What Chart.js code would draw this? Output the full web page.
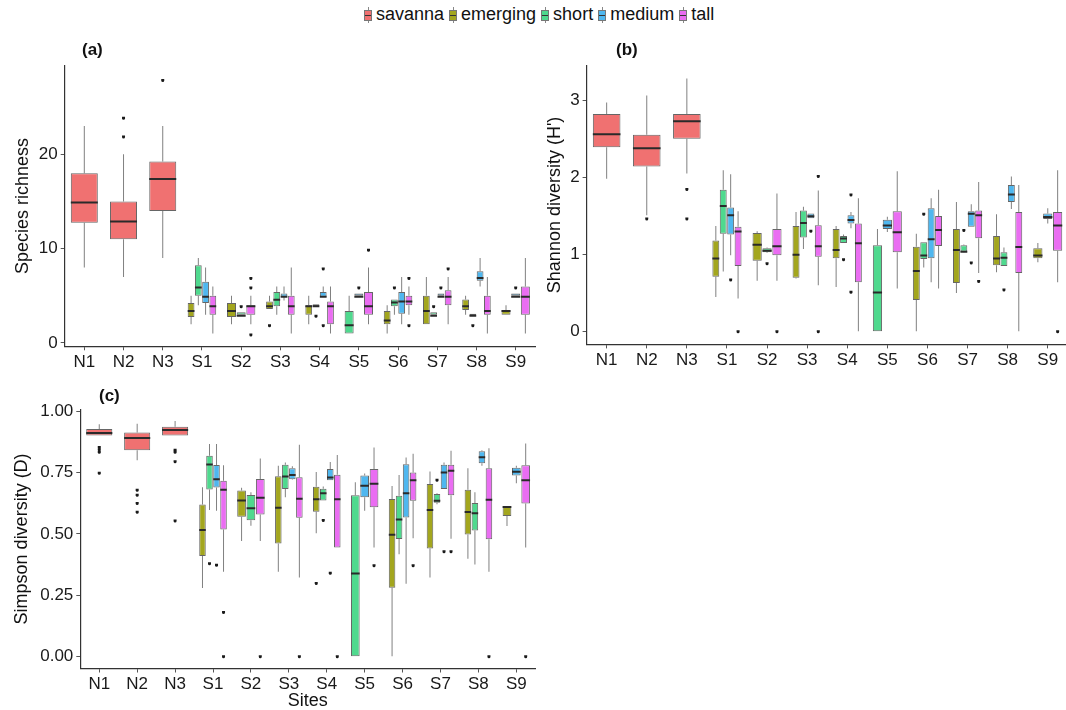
<!DOCTYPE html>
<html>
<head>
<meta charset="utf-8">
<script src="https://cdn.jsdelivr.net/npm/chart.js@4.4.1/dist/chart.umd.min.js"></script>
<style>
  html, body { margin: 0; padding: 0; background: #fff; }
  body { width: 1066px; height: 710px; overflow: hidden; position: relative;
         font-family: "Liberation Sans", Arial, sans-serif; color: #111; }
  .panel { position: absolute; }
  .tag { position: absolute; font-weight: bold; font-size: 17px; }
  #legend { position: absolute; top: 4px; left: 364px; white-space: nowrap; font-size: 18px; }
  .item { display: inline-block; margin-right: 5px; }
  .icon { position: relative; display: inline-block; width: 8px; height: 16px; vertical-align: -3px; margin-right: 4px; }
  .wh { position: absolute; left: 3.5px; top: 0; width: 1px; height: 16px; background: #888; }
  .bx { position: absolute; left: 0; top: 3px; width: 6px; height: 9px; border: 1px solid #777; }
  .bx::after { content: ""; position: absolute; left: 0; right: 0; top: 4px; height: 1px; background: #333; }
</style>
</head>
<body>
<div id="legend"></div>
<div class="panel" style="left:0;top:0;width:545px;height:380px"><canvas id="chartA"></canvas></div>
<div class="panel" style="left:520px;top:0;width:580px;height:380px"><canvas id="chartB"></canvas></div>
<div class="panel" style="left:0;top:380px;width:545px;height:330px"><canvas id="chartC"></canvas></div>
<div class="tag" style="left:82px;top:40px">(a)</div>
<div class="tag" style="left:616px;top:40px">(b)</div>
<div class="tag" style="left:99px;top:386px">(c)</div>
<script>
const sites = ["N1", "N2", "N3", "S1", "S2", "S3", "S4", "S5", "S6", "S7", "S8", "S9"];
const groups = ["savanna", "emerging", "short", "medium", "tall"];
const groupColors = ["#F07171", "#A3A61E", "#4FD98E", "#4FB7EF", "#EA6DF2"];

// each entry: [min, q1, median, q3, max], null where the group is absent
// (a) species richness
const richSavanna = [[8, 12.75, 15, 18, 23], [7, 11, 13, 15, 20], [9, 14, 17.5, 19.25, 23], null, null, null, null, null, null, null, null, null];
const richEmerging = [null, null, null, [2, 2.75, 3.5, 4.25, 5], [2, 2.75, 3.5, 4.25, 5], [3.6, 3.6, 4, 4.4, 5], [2, 3, 4, 4, 5], null, [1, 2, 2.5, 3.4, 4], [2, 2, 3.5, 5, 7], [3, 3.5, 4, 4.6, 5], [3, 3, 3.5, 3.5, 4]];
const richShort = [null, null, null, [4, 5, 6, 8.25, 9], [3, 3, 3, 3.25, 3.25], [3, 3.9, 4.7, 5.4, 6], [3.9, 3.9, 4, 4.1, 4.1], [1, 1, 2, 3.4, 5], [3, 3.9, 4.4, 4.6, 4.6], [3, 3, 3, 3.25, 3.25], [2.9, 2.9, 3, 3.1, 3.1], null];
const richMedium = [null, null, null, [3, 4.25, 5, 6.5, 8], null, [4.5, 4.9, 5, 5.25, 6], [4.9, 4.9, 5, 5.4, 6], [5, 5, 5, 5.25, 5.25], [2, 3.1, 4.5, 5.4, 7], [5, 5, 5, 5.25, 5.25], [6, 6.6, 7, 7.6, 9], [5, 5, 5, 5.25, 5.25]];
const richTall = [null, null, null, [1, 3, 4, 5, 6], [2, 3, 4, 4, 5], [1, 3, 4, 5, 8], [1, 2, 4, 4.4, 6], [2, 3, 4, 5.4, 8], [3, 4, 4.5, 5, 6], [2, 4, 5, 5.6, 7], [1, 3, 3.5, 5, 7], [1, 3, 5, 6, 9]];
const richSavannaOut = [[], [22, 24], [28], [], [], [], [], [], [], [], [], []];
const richEmergingOut = [[], [], [], [], [], [2], [], [], [], [], [], []];
const richShortOut = [[], [], [], [], [4], [], [3], [], [6], [4], [2], []];
const richMediumOut = [[], [], [], [], [], [], [8, 2], [6], [], [6], [], [6]];
const richTallOut = [[], [], [], [], [7, 6, 1], [], [], [10], [7, 2], [8], [], []];

// (b) Shannon diversity
const shanSavanna = [[1.98, 2.39, 2.57, 2.82, 2.97], [1.51, 2.14, 2.39, 2.55, 3.06], [2.05, 2.5, 2.74, 2.82, 3.28], null, null, null, null, null, null, null, null, null];
const shanEmerging = [null, null, null, [0.45, 0.71, 0.96, 1.18, 1.37], [0.66, 0.92, 1.14, 1.28, 1.30], [0.69, 0.70, 1.01, 1.37, 1.55], [0.58, 0.95, 1.07, 1.33, 1.37], null, [0, 0.41, 0.80, 1.10, 1.27], [0.50, 0.63, 1.07, 1.33, 1.68], [0.77, 0.86, 0.96, 1.24, 1.52], [0.90, 0.95, 1.00, 1.08, 1.15]];
const shanShort = [null, null, null, [0.78, 1.27, 1.64, 1.84, 2.09], [1.02, 1.03, 1.06, 1.08, 1.09], [1.07, 1.22, 1.42, 1.57, 1.62], [1.15, 1.15, 1.22, 1.24, 1.26], [0, 0, 0.52, 1.12, 1.33], [0.83, 0.94, 1.00, 1.16, 1.16], [1.03, 1.04, 1.05, 1.12, 1.13], [0.85, 0.85, 0.97, 1.03, 1.09], null];
const shanMedium = [null, null, null, [0.99, 1.26, 1.52, 1.61, 2.04], null, [1.47, 1.47, 1.51, 1.53, 1.53], [1.34, 1.40, 1.46, 1.51, 1.55], [1.29, 1.33, 1.39, 1.45, 1.49], [0.64, 0.95, 1.21, 1.60, 1.73], [1.36, 1.36, 1.54, 1.56, 1.65], [1.59, 1.68, 1.79, 1.90, 2.01], [1.40, 1.46, 1.50, 1.53, 1.60]];
const shanTall = [null, null, null, [0.43, 0.85, 1.31, 1.36, 1.56], [0.66, 0.99, 1.12, 1.33, 1.79], [0.6, 0.97, 1.12, 1.38, 1.83], [0, 0.64, 1.16, 1.40, 1.73], [0.56, 1.03, 1.30, 1.56, 2.08], [0.56, 1.11, 1.33, 1.50, 1.84], [0.76, 1.21, 1.52, 1.57, 1.94], [0, 0.76, 1.11, 1.55, 1.90], [0.64, 1.05, 1.39, 1.55, 2.09]];
const shanSavannaOut = [[], [1.48], [1.86, 1.48], [], [], [], [], [], [], [], [], []];
const shanEmergingOut = [[], [], [], [], [], [], [], [], [], [], [], []];
const shanShortOut = [[], [], [], [], [0.90], [], [0.95], [], [1.54], [1.33], [0.56], []];
const shanMediumOut = [[], [], [], [0.69], [], [1.32], [1.79, 0.53], [], [], [0.91], [], []];
const shanTallOut = [[], [], [], [0], [0], [2.03, 0], [], [], [], [0.67], [], [0]];

// (c) Simpson diversity
const simpSavanna = [[0.90, 0.90, 0.915, 0.927, 0.946], [0.80, 0.84, 0.894, 0.913, 0.948], [0.90, 0.90, 0.927, 0.936, 0.959], null, null, null, null, null, null, null, null, null];
const simpEmerging = [null, null, null, [0.28, 0.41, 0.52, 0.62, 0.69], [0.471, 0.57, 0.64, 0.677, 0.688], [0.346, 0.461, 0.61, 0.735, 0.777], [0.502, 0.59, 0.645, 0.692, 0.752], null, [0, 0.281, 0.50, 0.642, 0.695], [0.322, 0.44, 0.601, 0.703, 0.754], [0.399, 0.497, 0.593, 0.68, 0.767], [0.532, 0.573, 0.613, 0.613, 0.613]];
const simpShort = [null, null, null, [0.597, 0.681, 0.786, 0.818, 0.866], [0.533, 0.555, 0.608, 0.658, 0.669], [0.649, 0.683, 0.738, 0.781, 0.79], [0.636, 0.636, 0.669, 0.684, 0.693], [0, 0, 0.343, 0.657, 0.71], [0.417, 0.479, 0.563, 0.655, 0.74], [0.621, 0.627, 0.639, 0.662, 0.665], [0.375, 0.514, 0.588, 0.626, 0.669], null];
const simpMedium = [null, null, null, [0.594, 0.689, 0.726, 0.78, 0.866], null, [0.72, 0.722, 0.744, 0.767, 0.775], [0.718, 0.718, 0.733, 0.764, 0.792], [0.594, 0.649, 0.70, 0.738, 0.746], [0.297, 0.567, 0.669, 0.783, 0.811], [0.683, 0.683, 0.754, 0.781, 0.79], [0.777, 0.787, 0.816, 0.836, 0.84], [0.706, 0.738, 0.757, 0.769, 0.777]];
const simpTall = [null, null, null, [0.346, 0.518, 0.684, 0.716, 0.779], [0.471, 0.579, 0.651, 0.723, 0.807], [0.322, 0.566, 0.647, 0.73, 0.863], [0.445, 0.445, 0.645, 0.741, 0.821], [0.445, 0.608, 0.708, 0.764, 0.852], [0.482, 0.635, 0.722, 0.75, 0.826], [0.48, 0.657, 0.761, 0.781, 0.838], [0.346, 0.478, 0.643, 0.767, 0.848], [0.445, 0.624, 0.722, 0.779, 0.868]];
const simpSavannaOut = [[0.858, 0.848, 0.838, 0.753], [0.684, 0.663, 0.63, 0.594], [0.846, 0.838, 0.80, 0.558], [], [], [], [], [], [], [], [], []];
const simpEmergingOut = [[], [], [], [], [], [], [0.304], [], [], [], [], []];
const simpShortOut = [[], [], [], [0.384], [], [], [0.56], [], [], [0.724], [], []];
const simpMediumOut = [[], [], [], [0.378], [], [], [0.346], [], [], [0.433], [], []];
const simpTallOut = [[], [], [], [0.186, 0], [0], [0], [0], [0.376], [0.376], [0.433], [0], [0]];

Chart.defaults.font.family = '"Liberation Sans", Arial, sans-serif';
Chart.defaults.color = "#1a1a1a";

// legend
const legend = document.getElementById("legend");
groups.forEach((g, i) => {
    const item = document.createElement("span");
    item.className = "item";
    item.innerHTML = `<span class="icon"><span class="wh"></span><span class="bx" style="background:${groupColors[i]}"></span></span>${g}`;
    legend.appendChild(item);
});

const barOpts = { barPercentage: 0.93, categoryPercentage: 0.74, skipNull: true };

function buildDatasets(stats, outs) {
    const ds = [];
    // medians first (lowest order): they fix the slot order of the groups
    stats.forEach((s, g) => {
        ds.push(Object.assign({
            label: groups[g] + " median", stack: groups[g], order: 0,
            data: s.map(v => v ? [v[2], v[2]] : null),
            backgroundColor: "#2a2a2a", minBarLength: 2
        }, barOpts));
    });
    stats.forEach((s, g) => {
        ds.push(Object.assign({
            label: groups[g], stack: groups[g], order: 1,
            data: s.map(v => v ? [v[1], v[3]] : null),
            backgroundColor: groupColors[g], borderColor: "#666", borderWidth: 1,
            borderSkipped: false, minBarLength: 1
        }, barOpts));
    });
    stats.forEach((s, g) => {
        ds.push(Object.assign({
            label: groups[g] + " lower", stack: groups[g], order: 2,
            data: s.map(v => v ? [v[0], v[1]] : null),
            backgroundColor: "#808080", maxBarThickness: 1
        }, barOpts));
        ds.push(Object.assign({
            label: groups[g] + " upper", stack: groups[g], order: 2,
            data: s.map(v => v ? [v[3], v[4]] : null),
            backgroundColor: "#808080", maxBarThickness: 1
        }, barOpts));
    });
    outs.forEach((o, g) => {
        const n = Math.max(...o.map(a => a.length));
        for (let k = 0; k < n; k++) {
            ds.push(Object.assign({
                label: groups[g] + " outlier", stack: groups[g], order: 3,
                data: o.map(a => a[k] !== undefined ? [a[k], a[k]] : null),
                backgroundColor: "#1a1a1a", maxBarThickness: 3, minBarLength: 3, borderRadius: 1.5
            }, barOpts));
        }
    });
    return ds;
}

function makeChart(id, stats, outs, cfg) {
    return new Chart(document.getElementById(id), {
        type: "bar",
        data: { labels: sites, datasets: buildDatasets(stats, outs) },
        options: {
            responsive: true,
            maintainAspectRatio: false,
            animation: false,
            events: [],
            layout: { padding: cfg.padding },
            plugins: { legend: { display: false }, tooltip: { enabled: false } },
            scales: {
                x: {
                    grid: { display: true, offset: false, drawOnChartArea: false, drawTicks: true, tickLength: 4, color: "#555" },
                    border: { display: true, color: "#333", width: 1.2 },
                    ticks: { autoSkip: false, maxRotation: 0, padding: 2, font: { size: 17 }, color: "#1a1a1a" },
                    title: { display: !!cfg.xTitle, text: cfg.xTitle || "", font: { size: 18, lineHeight: 1 }, color: "#111", padding: { top: 0, bottom: 0 } },
                    afterFit: s => { s.height = cfg.xHeight; }
                },
                y: {
                    stacked: false,
                    min: cfg.min, max: cfg.max,
                    grid: { display: true, drawOnChartArea: false, drawTicks: true, tickLength: 4, color: "#555" },
                    border: { display: true, color: "#333", width: 1.2 },
                    ticks: { stepSize: cfg.step, includeBounds: false, padding: 3, font: { size: 17 }, color: "#1a1a1a",
                             callback: cfg.fmt || (v => v) },
                    title: { display: true, text: cfg.yTitle, font: { size: 18 }, color: "#111", padding: { top: cfg.titlePad, bottom: 0 } },
                    afterFit: s => { s.width = cfg.yWidth; }
                }
            }
        }
    });
}

makeChart("chartA", [richSavanna, richEmerging, richShort, richMedium, richTall],
    [richSavannaOut, richEmergingOut, richShortOut, richMediumOut, richTallOut],
    { padding: { left: 0, right: 9.7, top: 65.7, bottom: 0 }, yWidth: 64.7, xHeight: 33.7,
      min: -0.35, max: 29.4, step: 10, yTitle: "Species richness", titlePad: 12 });

makeChart("chartB", [shanSavanna, shanEmerging, shanShort, shanMedium, shanTall],
    [shanSavannaOut, shanEmergingOut, shanShortOut, shanMediumOut, shanTallOut],
    { padding: { left: 0, right: 32.2, top: 65.4, bottom: 0 }, yWidth: 66.6, xHeight: 35.6,
      min: -0.165, max: 3.45, step: 1, yTitle: "Shannon diversity (H')", titlePad: 24 });

makeChart("chartC", [simpSavanna, simpEmerging, simpShort, simpMedium, simpTall],
    [simpSavannaOut, simpEmergingOut, simpShortOut, simpMediumOut, simpTallOut],
    { padding: { left: 0, right: 9.7, top: 29.3, bottom: 0 }, yWidth: 80.3, xHeight: 41.5,
      min: -0.048, max: 1.007, step: 0.25, fmt: v => v.toFixed(2),
      yTitle: "Simpson diversity (D)", titlePad: 11, xTitle: "Sites" });
</script>
</body>
</html>
